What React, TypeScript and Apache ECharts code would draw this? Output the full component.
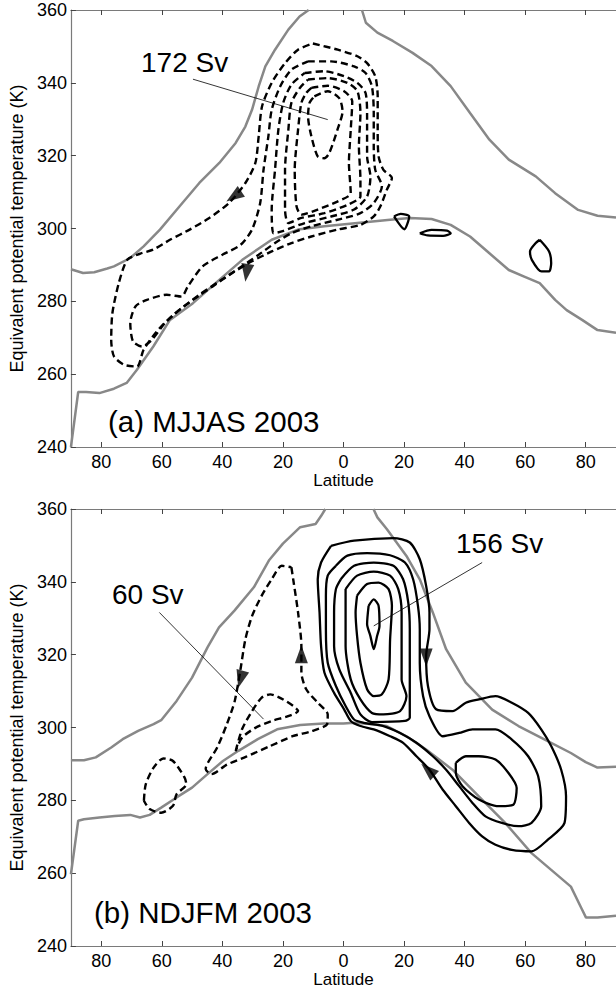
import React, { useEffect, useRef } from 'react';
import * as echarts from 'echarts';

type P = [number, number];
type A = [number, number, number];

const FONT = '"Liberation Sans", Arial, Helvetica, sans-serif';

// axis ticks
const latTicks = [-80, -60, -40, -20, 0, 20, 40, 60, 80];
const thetaTicks = [240, 260, 280, 300, 320, 340, 360];

// ---------- Panel (a) MJJAS 2003 ----------
const aUpperWest: P[] = [[-90, 288.8], [-86, 287.8], [-82.3, 288.0], [-78, 289], [-75.8, 289.6], [-70.4, 291.9], [-66, 295.1], [-60.6, 299.7], [-54.1, 306.1], [-47.6, 312.5], [-41, 318], [-35.6, 323.5], [-32.4, 328], [-30.2, 332.6], [-28, 339], [-25.8, 344.5], [-22.6, 349.1], [-18.2, 354.6], [-14.5, 358.2], [-11.5, 360]];
const aUpperEast: P[] = [[6.1, 360], [7.4, 356.5], [11.2, 353.8], [16.3, 351.5], [22.7, 348.3], [29.1, 344.6], [35.4, 339.1], [41.8, 331.7], [48.2, 324.4], [54.6, 318.9], [63.5, 314.3], [69.9, 309.7], [77.5, 305.1], [83.9, 303.5], [90, 303.0]];
const aLower: P[] = [[-90, 240], [-87.6, 255.1], [-85, 255.1], [-80.6, 254.8], [-75.8, 256], [-71.6, 257.6], [-68.2, 261.2], [-62.8, 267.6], [-57.3, 274.9], [-49.7, 279.5], [-41, 285.9], [-33.4, 291.4], [-23.7, 296.9], [-15, 299.7], [-6.3, 300.6], [4.6, 301.5], [15.4, 302.4], [21.9, 302.9], [29.1, 302.6], [35.4, 301], [41.8, 297.8], [48.2, 293.2], [54.6, 288.6], [59.7, 286.8], [64.8, 285], [69.9, 280.4], [73.7, 277.6], [78.8, 274.9], [83.9, 272.1], [90, 271.4]];

const aNeg1: P[] = [[-10.1, 350.8], [-1.9, 349.1], [4.6, 347.3], [7.8, 345.4], [10.5, 341.8], [11.3, 336.3], [11.3, 327.1], [11.6, 319.8], [13.2, 316.1], [16.0, 313.9], [14.3, 310.6], [12.2, 306.1], [10.0, 303.3], [5.6, 301.0], [-1.9, 299.7], [-10.6, 297.8], [-17.2, 296.0], [-23.7, 293.7], [-30.2, 291.0], [-36.7, 287.8], [-43.2, 284.1], [-49.7, 280.4], [-56.2, 276.3], [-61.7, 271.7], [-66.0, 266.7], [-68.2, 262.1], [-72.5, 262.6], [-75.8, 264.9], [-76.7, 269.4], [-76.3, 276.8], [-74.2, 285.0], [-71.4, 291.4], [-67.1, 293.1], [-62.8, 294.2], [-57.3, 296.9], [-50.8, 299.7], [-44.3, 302.9], [-37.8, 307.0], [-32.4, 312.5], [-29.1, 318.0], [-28.0, 325.3], [-26.9, 333.5], [-23.7, 340.0], [-19.3, 345.4], [-15.0, 349.1]];
const aNeg2: P[] = [[-11.7, 345.9], [-4.1, 345.9], [3.5, 344.5], [7.3, 342.7], [9.4, 339.0], [10.0, 331.7], [10.0, 322.6], [10.5, 316.1], [12.7, 311.6], [10.0, 307.0], [5.6, 304.2], [-2.0, 302.4], [-10.6, 300.6], [-17.2, 298.7], [-22.6, 296.0], [-28.0, 292.8], [-34.5, 289.1], [-41.0, 285.5], [-47.6, 281.8], [-53.5, 278.1], [-59.0, 274.0], [-63.3, 269.4], [-66.6, 267.6], [-69.5, 269.0], [-70.4, 274.0], [-68.7, 278.6], [-64.9, 280.4], [-58.4, 281.8], [-53.5, 281.3], [-51.4, 284.1], [-46.5, 289.6], [-40.0, 292.8], [-34.0, 295.5], [-30.2, 299.7], [-27.5, 307.0], [-26.4, 316.1], [-24.8, 325.3], [-23.7, 332.6], [-20.9, 339.0], [-17.2, 343.6]];
const aNeg3: P[] = [[-12.8, 342.7], [-6.3, 343.2], [0.2, 341.8], [4.6, 340.0], [7.3, 337.2], [7.8, 330.8], [7.8, 319.8], [8.9, 314.3], [7.8, 308.8], [3.5, 305.2], [-4.1, 303.3], [-12.8, 301.5], [-20.4, 299.2], [-23.1, 298.7], [-23.7, 305.2], [-22.6, 316.1], [-21.5, 327.1], [-19.9, 334.5], [-17.2, 339.5]];
const aNeg4: P[] = [[-11.7, 340.9], [-5.2, 341.3], [1.3, 340.0], [4.6, 337.7], [5.6, 331.7], [5.1, 322.6], [5.6, 313.4], [5.6, 308.8], [1.3, 306.5], [-6.3, 304.2], [-13.9, 302.9], [-18.2, 301.5], [-19.3, 305.2], [-19.3, 316.1], [-18.2, 327.1], [-17.2, 334.5], [-14.4, 338.6]];
const aNeg5: P[] = [[-10.6, 338.6], [-5.2, 339.2], [0.2, 337.7], [2.9, 334.9], [2.4, 327.1], [1.8, 318.0], [2.4, 309.7], [-2.0, 307.4], [-8.5, 305.2], [-13.9, 303.8], [-15.5, 306.1], [-16.1, 316.1], [-15.0, 327.1], [-13.9, 334.5], [-12.3, 337.2]];
const aNeg6: P[] = [[-9.6, 336.3], [-5.2, 337.7], [-1.4, 335.8], [-0.3, 332.2], [-2.0, 327.1], [-4.7, 320.7], [-6.3, 319.3], [-8.5, 319.8], [-10.6, 325.3], [-11.7, 330.8], [-11.2, 334.5]];
const aPos1: P[] = [[16.7, 303.3], [18.9, 304.0], [21.7, 303.3], [20.1, 299.8]];
const aPos2: P[] = [[25.2, 298.7], [29.1, 299.6], [34.2, 299.4], [35.4, 298.7], [32.9, 298.0], [27.8, 298.1]];
const aPos3: P[] = [[64.8, 296.9], [67.9, 293.7], [68.6, 290.5], [67.9, 288.2], [65.4, 288.2], [62.2, 291.4], [61.6, 293.7], [63.5, 296.0]];
const aArrows: A[] = [[-36.2, 308.8, 124], [-32.0, 287.8, 172]];
const aLeader: P[] = [[-49.7, 341.0], [-5.2, 329.9]];

// ---------- Panel (b) NDJFM 2003 ----------
const bUpperWest: P[] = [[-90, 291], [-85.7, 291], [-81.8, 291.8], [-76.7, 294.5], [-72.9, 296.8], [-67.8, 299.1], [-62.7, 300.9], [-60.2, 302], [-55.1, 307.3], [-50, 313.7], [-44.9, 322], [-41.1, 327.5], [-36, 332.1], [-29.6, 338.5], [-24.5, 346], [-20, 350.5], [-14.3, 355], [-9.2, 355.9], [-7.3, 358.2], [-6, 360]];
const bUpperEast: P[] = [[9.9, 360], [11.2, 357.7], [14.3, 354.5], [20.8, 347.1], [25.2, 340.7], [29.5, 331.6], [33.9, 321.5], [40.4, 312.3], [49.1, 304.9], [57.8, 300.4], [66.5, 296.7], [75.1, 293], [80, 290.5], [83.9, 289], [90, 289.2]];
const bLower: P[] = [[-90, 259.7], [-87.6, 274.4], [-85.7, 274.8], [-80.6, 275.3], [-75.5, 275.7], [-70.4, 276], [-67.2, 275.3], [-64, 276], [-60.2, 278], [-55.1, 280.8], [-50, 283.5], [-44.9, 287.2], [-39.8, 290.8], [-34.7, 293.6], [-28.3, 296.8], [-21.9, 299.5], [-14.3, 300.7], [-6.6, 301.1], [0, 301.1], [3.5, 301.3], [8, 301], [14.3, 300.4], [20.8, 297.6], [27.4, 293.9], [36, 288.4], [44.7, 281.1], [53.4, 273.8], [62.1, 265.5], [68.6, 260.9], [75.1, 256.3], [78.5, 250.5], [80.1, 247.8], [83.9, 247.8], [90, 248.3]];

const bPos1: P[] = [[-4.1, 349.9], [3.5, 351.3], [16.5, 352.0], [21.9, 350.8], [25.2, 346.2], [27.3, 338.9], [28.4, 331.6], [28.4, 327.0], [27.3, 319.6], [27.9, 311.4], [30.6, 305.0], [36.0, 304.5], [40.4, 306.8], [44.7, 307.7], [50.2, 308.6], [55.6, 306.8], [61.0, 304.0], [65.3, 299.5], [68.6, 294.9], [71.9, 288.4], [73.5, 281.1], [73.0, 273.8], [67.5, 269.2], [62.1, 266.0], [55.6, 266.4], [50.2, 267.8], [45.8, 270.1], [41.5, 273.8], [37.1, 278.4], [32.8, 282.9], [28.4, 288.4], [24.1, 292.1], [19.7, 295.8], [15.4, 297.6], [10.0, 299.5], [5.6, 300.4], [2.4, 301.8], [0.2, 305.0], [-3.1, 309.5], [-6.3, 315.1], [-7.4, 322.4], [-7.9, 331.6], [-8.5, 340.7], [-7.4, 345.3]];
const bPos2: P[] = [[-2.5, 344.4], [1.3, 347.2], [7.8, 347.9], [15.4, 347.3], [20.3, 345.3], [23.0, 340.7], [24.6, 333.4], [25.2, 327.0], [25.2, 317.8], [26.3, 308.6], [28.4, 303.1], [32.8, 297.6], [38.2, 298.5], [42.6, 299.5], [50.2, 299.5], [55.6, 296.7], [61.0, 292.1], [64.3, 286.6], [65.3, 278.4], [62.1, 273.8], [57.8, 272.9], [52.3, 273.8], [46.9, 275.6], [42.6, 279.3], [38.2, 283.9], [33.9, 288.4], [29.5, 292.1], [24.1, 295.8], [18.7, 298.5], [13.2, 300.4], [6.7, 301.3], [3.5, 302.2], [0.7, 305.9], [-2.5, 311.4], [-5.2, 317.8], [-5.8, 327.0], [-5.8, 336.2], [-5.2, 341.7]];
const bPos3: P[] = [[-0.9, 340.7], [3.5, 344.4], [10.0, 345.3], [16.5, 344.4], [19.7, 340.7], [21.4, 334.3], [21.9, 327.0], [21.9, 313.2], [21.9, 302.7], [20.3, 301.8], [9.4, 301.5], [5.6, 303.6], [2.4, 309.5], [-1.4, 316.0], [-3.1, 322.4], [-3.1, 331.6], [-2.5, 338.0]];
const bPos4: P[] = [[0.7, 338.0], [4.5, 341.7], [10.0, 342.8], [15.4, 341.7], [18.1, 338.0], [19.2, 331.6], [19.2, 322.4], [19.2, 313.2], [20.8, 308.6], [18.7, 304.5], [13.2, 303.6], [9.4, 304.0], [5.6, 307.7], [2.4, 313.2], [0.7, 322.4], [0.7, 331.6]];
const bPos5: P[] = [[4.5, 336.2], [7.8, 339.4], [11.6, 339.8], [14.9, 338.0], [16.0, 333.4], [15.4, 324.2], [14.9, 313.2], [12.7, 309.1], [10.0, 308.6], [7.8, 310.5], [5.6, 317.8], [4.5, 325.1], [4.0, 331.6]];
const bPos6: P[] = [[8.3, 333.4], [10.0, 335.2], [11.6, 333.4], [11.9, 327.9], [11.1, 325.1], [10.0, 321.5], [8.9, 325.1], [7.8, 328.4]];
const bPos7: P[] = [[37.1, 290.3], [40.4, 292.1], [44.7, 292.1], [50.2, 291.2], [54.5, 287.5], [57.2, 283.4], [56.1, 278.8], [51.2, 278.4], [44.7, 280.2], [39.3, 283.9], [37.1, 287.5]];
const bNeg1: P[] = [[-17.2, 344.0], [-16.6, 340.7], [-15.0, 331.6], [-13.9, 322.4], [-13.9, 315.1], [-12.3, 310.5], [-8.5, 306.8], [-5.2, 303.6], [-5.4, 300.9], [-10.5, 299.0], [-16.8, 297.6], [-24.5, 294.8], [-32.1, 292.0], [-38.5, 289.8], [-43.6, 287.2], [-45.5, 288.6], [-41.7, 294.5], [-38.5, 300.9], [-35.9, 307.3], [-34.0, 316.0], [-32.4, 324.2], [-30.2, 330.6], [-27.0, 336.2], [-23.7, 340.7], [-20.4, 344.4]];
const bNeg2: P[] = [[-35.6, 293.5], [-33.5, 299.5], [-30.2, 304.5], [-27.0, 308.2], [-24.2, 309.1], [-19.9, 307.7], [-15.0, 304.5], [-18.3, 303.1], [-23.7, 301.8], [-29.1, 299.9], [-33.5, 297.2]];
const bNeg3: P[] = [[-65.9, 279.9], [-65.3, 284.4], [-62.7, 289.0], [-59.5, 291.5], [-56.3, 290.8], [-52.5, 286.3], [-51.9, 284.4], [-55.1, 281.7], [-56.3, 278.5], [-60.2, 276.6], [-64.0, 277.6]];
const bArrows: A[] = [[-34.0, 313.2, 165], [-13.9, 320.1, 0], [27.3, 319.2, 180], [27.9, 288.4, 48]];
const bLeader60: P[] = [[-60.8, 331.6], [-26.4, 302.3]];
const bLeader156: P[] = [[45.8, 345.3], [10.0, 327.9]];

const GRAY = '#888888';

function closeLoop(p: P[]): P[] {
  return [...p, p[0]];
}

function grayLine(data: P[], xi: number, yi: number) {
  return {
    type: 'line', xAxisIndex: xi, yAxisIndex: yi, data, showSymbol: false, symbol: 'none',
    lineStyle: { color: GRAY, width: 2.5 }, silent: true, z: 2,
  };
}
function contour(data: P[], xi: number, yi: number, dashed: boolean) {
  return {
    type: 'line', xAxisIndex: xi, yAxisIndex: yi, data: closeLoop(data), showSymbol: false, symbol: 'none',
    smooth: 0.25,
    lineStyle: { color: '#000', width: dashed ? 2.4 : 2.3, type: dashed ? [7, 4] : 'solid' }, silent: true, z: 3,
  };
}
function leader(data: P[], xi: number, yi: number) {
  return {
    type: 'line', xAxisIndex: xi, yAxisIndex: yi, data, showSymbol: false, symbol: 'none',
    lineStyle: { color: '#000', width: 0.8 }, silent: true, z: 4,
  };
}
function arrows(data: A[], xi: number, yi: number) {
  return {
    type: 'scatter', xAxisIndex: xi, yAxisIndex: yi, symbol: 'triangle', symbolSize: [13, 18],
    itemStyle: { color: '#000' }, silent: true, z: 5,
    data: data.map(([x, y, r]) => ({ value: [x, y], symbolRotate: r })),
  };
}

function xAxis(gridIndex: number, position: 'top' | 'bottom') {
  const bottom = position === 'bottom';
  return {
    type: 'value', gridIndex, position, min: -90, max: 90,
    axisLine: { show: true, onZero: false, lineStyle: { color: '#7a7a7a', width: 1.2 } },
    axisTick: { show: true, inside: true, length: 5, customValues: latTicks, lineStyle: { color: '#444', width: 1 } },
    axisLabel: {
      show: bottom, customValues: latTicks, formatter: (v: number) => String(Math.abs(v)),
      fontSize: 18, color: '#000', margin: 6, fontFamily: FONT,
    },
    splitLine: { show: false },
    name: bottom ? 'Latitude' : '',
    nameLocation: 'middle', nameGap: 22,
    nameTextStyle: { fontSize: 17, color: '#000', fontFamily: FONT },
  };
}
function yAxis(gridIndex: number) {
  return {
    type: 'value', gridIndex, position: 'left', min: thetaTicks[0], max: thetaTicks[thetaTicks.length - 1], interval: 20,
    axisLine: { show: true, onZero: false, lineStyle: { color: '#7a7a7a', width: 1.2 } },
    axisTick: { show: true, inside: true, length: 5, lineStyle: { color: '#444', width: 1 } },
    axisLabel: { fontSize: 18, color: '#000', margin: 4, fontFamily: FONT },
    splitLine: { show: false },
    name: 'Equivalent potential temperature (K)', nameLocation: 'middle', nameGap: 34, nameRotate: 90,
    nameTextStyle: { fontSize: 18, color: '#000', fontFamily: FONT },
  };
}

function txt(text: string, x: number, y: number, size: number) {
  return {
    type: 'text', x, y, silent: true, z: 10,
    style: { text, fontSize: size, fontFamily: FONT, fill: '#000', align: 'left', verticalAlign: 'middle' },
  };
}

export default function App() {
  const ref = useRef<HTMLDivElement>(null);
  useEffect(() => {
    if (!ref.current) return;
    const chart = echarts.init(ref.current, null, { renderer: 'svg' });
    const series: any[] = [
      grayLine(aUpperWest, 0, 0), grayLine(aUpperEast, 0, 0), grayLine(aLower, 0, 0),
      ...[aNeg1, aNeg2, aNeg3, aNeg4, aNeg5, aNeg6].map((d) => contour(d, 0, 0, true)),
      ...[aPos1, aPos2, aPos3].map((d) => contour(d, 0, 0, false)),
      arrows(aArrows, 0, 0), leader(aLeader, 0, 0),
      grayLine(bUpperWest, 2, 1), grayLine(bUpperEast, 2, 1), grayLine(bLower, 2, 1),
      ...[bPos1, bPos2, bPos3, bPos4, bPos5, bPos6, bPos7].map((d) => contour(d, 2, 1, false)),
      ...[bNeg1, bNeg2, bNeg3].map((d) => contour(d, 2, 1, true)),
      arrows(bArrows, 2, 1), leader(bLeader60, 2, 1), leader(bLeader156, 2, 1),
    ];
    chart.setOption({
      animation: false,
      backgroundColor: '#fff',
      textStyle: { fontFamily: FONT },
      grid: [
        { left: 65, top: 10, width: 554, height: 437 },
        { left: 65, top: 509, width: 554, height: 437 },
      ],
      xAxis: [xAxis(0, 'bottom'), xAxis(0, 'top'), xAxis(1, 'bottom'), xAxis(1, 'top')],
      yAxis: [yAxis(0), yAxis(1)],
      series,
      graphic: [
        txt('172 Sv', 141, 62, 28),
        txt('(a) MJJAS 2003', 108, 421, 29.5),
        txt('60 Sv', 112, 594, 28),
        txt('156 Sv', 456, 543, 28),
        txt('(b) NDJFM 2003', 94, 912, 29.5),
      ],
    });
    return () => chart.dispose();
  }, []);
  return (
    <div
      ref={ref}
      style={{ position: 'absolute', left: 0, top: 0, width: 616, height: 990, background: '#fff' }}
    />
  );
}
